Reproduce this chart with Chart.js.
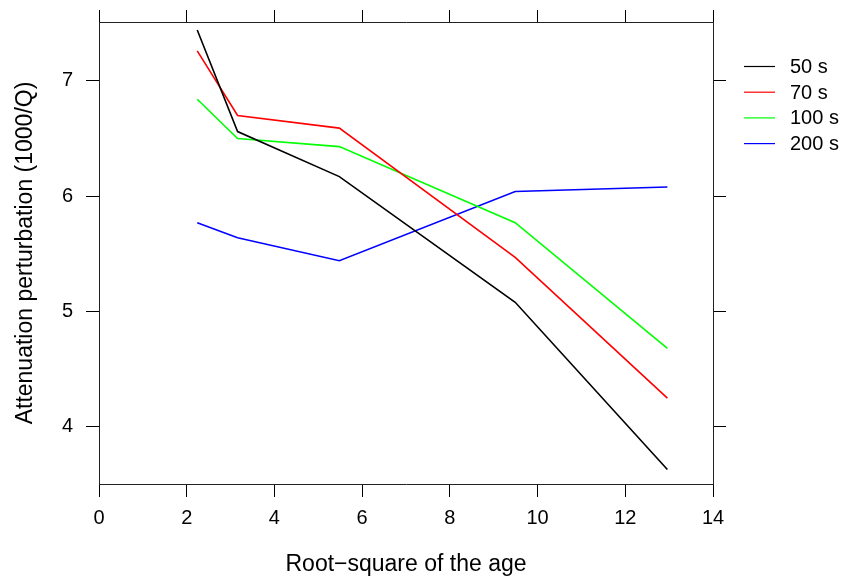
<!DOCTYPE html>
<html>
<head>
<meta charset="utf-8">
<script src="https://cdn.jsdelivr.net/npm/chart.js@4/dist/chart.umd.min.js"></script>
<style>
  html, body { margin: 0; padding: 0; background: #fff; }
  canvas { display: block; }
</style>
</head>
<body>
<canvas id="c" width="847" height="580"></canvas>
<script>
// ---- data ----
const ageRoot = [2.24, 3.16, 5.48, 9.49, 12.96];
const seriesNames = ["50 s", "70 s", "100 s", "200 s"];
const s50  = [7.44, 6.56, 6.17, 5.08, 3.63];
const s70  = [7.26, 6.70, 6.59, 5.47, 4.25];
const s100 = [6.84, 6.50, 6.43, 5.77, 4.68];
const s200 = [5.77, 5.64, 5.44, 6.04, 6.08];
const xTicks = [0, 2, 4, 6, 8, 10, 12, 14];
const yTicks = [4, 5, 6, 7];
const xTitle = "Root\u2212square of the age";
const yTitle = "Attenuation perturbation (1000/Q)";

const colors = ["#000000", "#ff0000", "#00ff00", "#0000ff"];
const FONT = "'Liberation Sans', Arial, Helvetica, sans-serif";
const allSeries = [s50, s70, s100, s200];

const datasets = allSeries.map((vals, i) => ({
  label: seriesNames[i],
  data: vals.map((v, j) => ({ x: ageRoot[j], y: v })),
  borderColor: colors[i],
  backgroundColor: colors[i],
  borderWidth: 1.6,
  pointRadius: 0,
  tension: 0,
  fill: false,
  xAxisID: 'x',
  yAxisID: 'y'
}));

const X_MIN = 0, X_MAX = 14, Y_MIN = 3.505, Y_MAX = 7.51;

const legendPlugin = {
  id: 'customLegend',
  afterDraw(chart) {
    const ctx = chart.ctx;
    ctx.save();
    ctx.font = "20px " + FONT;
    ctx.textBaseline = 'middle';
    ctx.textAlign = 'left';
    chart.data.datasets.forEach((ds, i) => {
      const y = 66.5 + i * 25.7;
      ctx.strokeStyle = ds.borderColor;
      ctx.lineWidth = 1.2;
      ctx.beginPath();
      ctx.moveTo(744, y);
      ctx.lineTo(775, y);
      ctx.stroke();
      ctx.fillStyle = '#000';
      ctx.fillText(ds.label, 790, y + 1);
    });
    ctx.restore();
  }
};

const gridOpts = (len) => ({
  display: true,
  drawOnChartArea: false,
  drawTicks: true,
  tickLength: len,
  color: '#000',
  lineWidth: 1
});
const borderOpts = { display: true, color: '#222', width: 1 };
const noPad = (s) => { s.paddingTop = 0; s.paddingBottom = 0; };

new Chart(document.getElementById('c'), {
  type: 'line',
  data: { datasets },
  plugins: [legendPlugin],
  options: {
    responsive: false,
    devicePixelRatio: 1,
    animation: false,
    layout: { padding: { left: 0, top: 0, bottom: 0, right: 121 } },
    plugins: { legend: { display: false }, tooltip: { enabled: false } },
    scales: {
      x: {
        type: 'linear', position: 'bottom', min: X_MIN, max: X_MAX,
        afterBuildTicks: (s) => { s.ticks = xTicks.map(v => ({ value: v })); },
        ticks: { color: '#000', font: { family: FONT, size: 20 }, padding: 9, maxRotation: 0, autoSkip: false },
        grid: gridOpts(13),
        border: borderOpts,
        title: { display: true, text: xTitle, color: '#000', font: { family: FONT, size: 23 }, padding: { top: 0, bottom: 2 } },
        afterFit: (s) => { s.height = 96; }
      },
      y: {
        type: 'linear', position: 'left', min: Y_MIN, max: Y_MAX,
        afterBuildTicks: (s) => { s.ticks = yTicks.map(v => ({ value: v })); },
        ticks: { color: '#000', font: { family: FONT, size: 20 }, padding: 13 },
        grid: gridOpts(13),
        border: borderOpts,
        title: { display: true, text: yTitle, color: '#000', font: { family: FONT, size: 23 }, padding: { top: 12, bottom: 0 } },
        afterFit: (s) => { s.width = 99; noPad(s); }
      },
      x2: {
        type: 'linear', position: 'top', min: X_MIN, max: X_MAX,
        afterBuildTicks: (s) => { s.ticks = xTicks.map(v => ({ value: v })); },
        ticks: { display: false },
        grid: gridOpts(12),
        border: borderOpts,
        afterFit: (s) => { s.height = 22; }
      },
      y2: {
        type: 'linear', position: 'right', min: Y_MIN, max: Y_MAX,
        afterBuildTicks: (s) => { s.ticks = yTicks.map(v => ({ value: v })); },
        ticks: { display: false },
        grid: gridOpts(13),
        border: borderOpts,
        afterFit: (s) => { s.width = 13; noPad(s); }
      }
    }
  }
});
</script>
</body>
</html>
